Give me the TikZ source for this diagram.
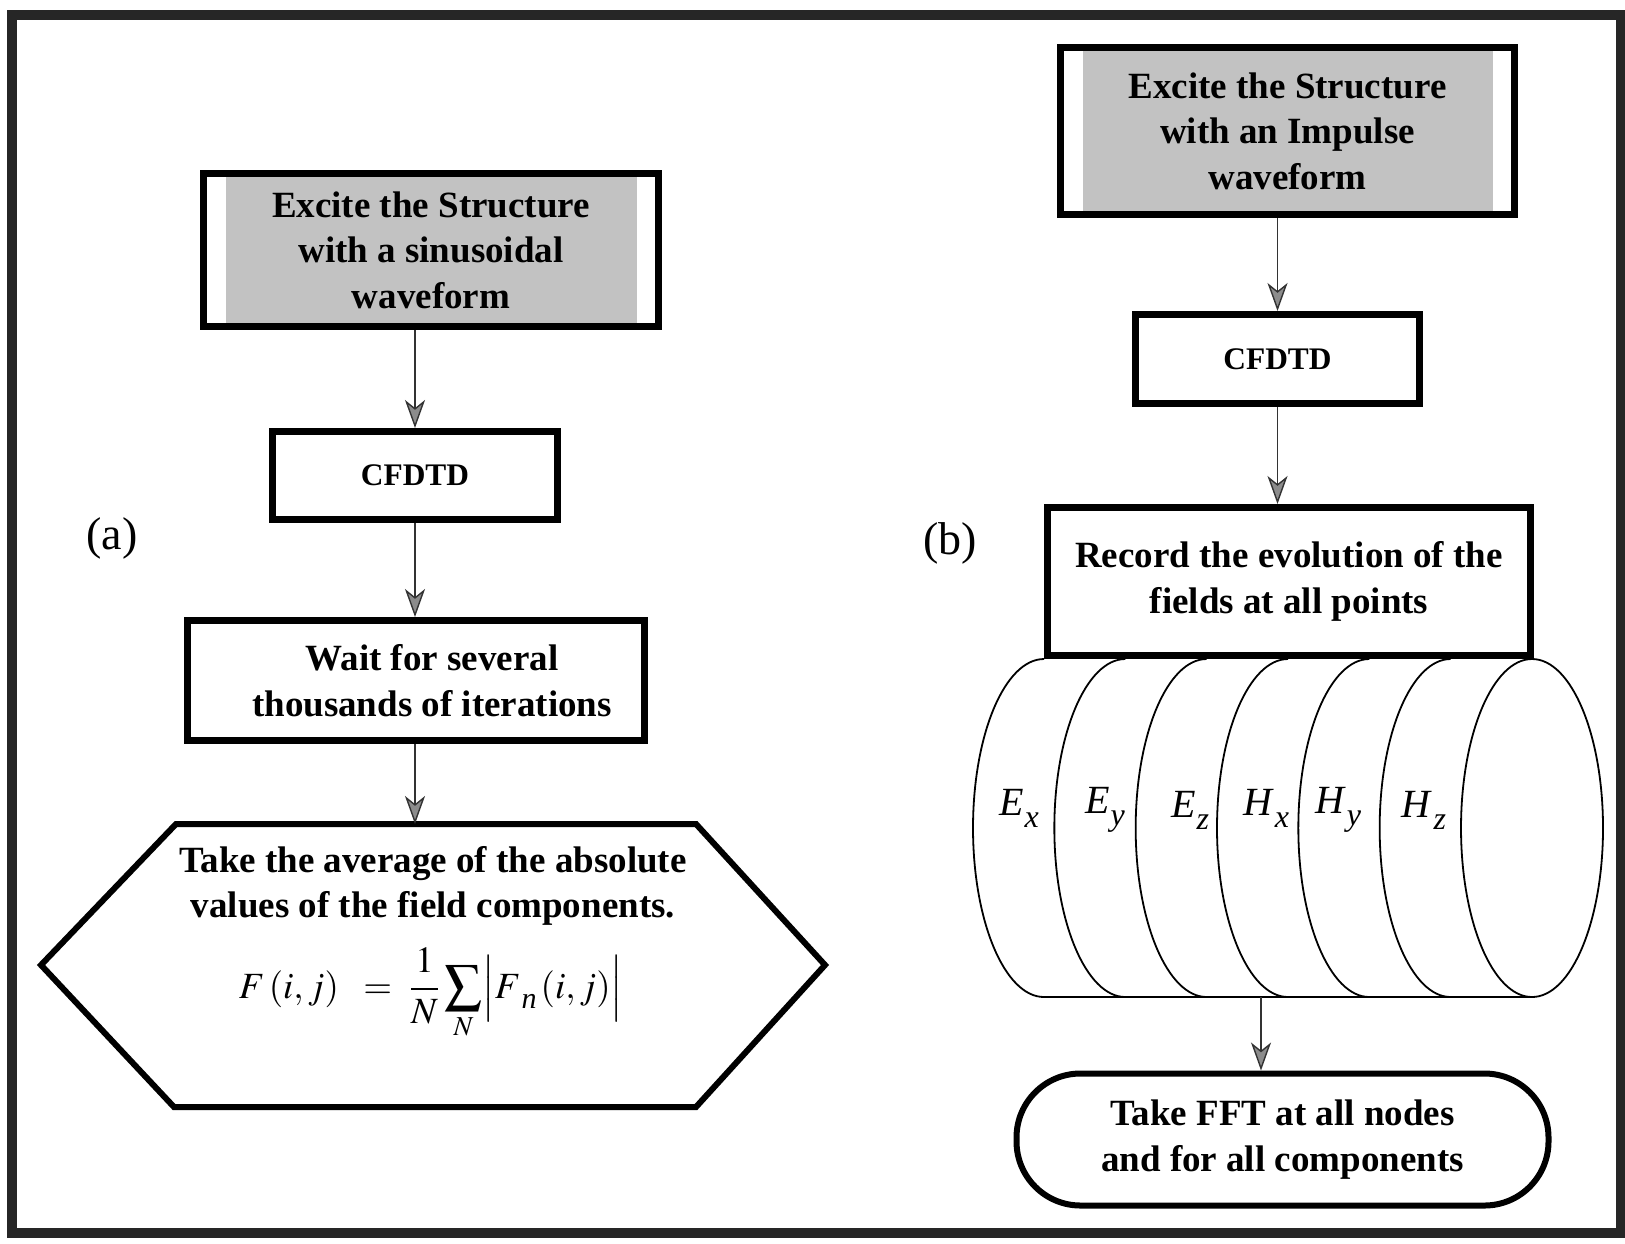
\documentclass[tikz,border=0pt]{standalone}
\usepackage{mathptmx}
\usepackage[no-math]{fontspec}
\setmainfont{Liberation Serif}
\usetikzlibrary{arrows.meta}
\newcommand\bfont{\fontsize{18.5}{22.8}\selectfont\bfseries}
\newcommand\cfont{\fontsize{15.7}{19}\selectfont\bfseries}
\newcommand\mfont{\fontsize{18.5}{22}\selectfont}
\newcommand\compl[2]{\textit{#1}\kern0.5pt\raisebox{-6pt}{\fontsize{16}{16}\selectfont\textit{#2}}}
\colorlet{boxgray}{black!24}
\tikzset{
  box/.style={draw=black, line width=3.5pt, fill=white, align=center, inner sep=0pt, font=\bfont},
  graybox/.style={box, path picture={\fill[boxgray] ([xshift=11pt]path picture bounding box.south west) rectangle ([xshift=-11pt]path picture bounding box.north east);}},
  conn/.style={draw=black!80, line width=0.7pt, -{Stealth[length=14pt,width=10pt,inset=4pt,fill=black!45]}},
  cyl/.style={line width=0.9pt},
  lbl/.style={font=\fontsize{23}{27}\selectfont},
  comp/.style={font=\fontsize{20}{24}\selectfont, inner sep=0pt}
}
\begin{document}
\begin{tikzpicture}[x=0.5pt,y=-0.5pt]
\useasboundingbox (0,0) rectangle (1625,1243);
\draw[line width=5pt, black!85] (12,15) rectangle (1621,1233);

% ---------- (a) ----------
\node[graybox, minimum width=227.5pt, minimum height=76.5pt] (a1) at (431,250) {Excite the Structure\\with a sinusoidal\\waveform};
\node[box, font=\cfont, minimum width=142.5pt, minimum height=44pt] (a2) at (415,475.5) {CFDTD};
\node[box, minimum width=228.5pt, minimum height=60pt] (a3) at (416,680.5) {\hspace*{16pt}Wait for several\\\hspace*{16pt}thousands of iterations};
\coordinate (hextop) at (415,824);
\draw[line width=3pt] (41,965) -- (176,824) -- (696,824) -- (825,965) -- (696,1107) -- (174,1107) -- cycle;
\node[font=\bfont, align=center, inner sep=0pt] (a4) at (433,886) {Take the average of the absolute\\values of the field components.};
\node[font=\mfont, anchor=base, inner sep=0pt] (a4f) at (431,998) {$\displaystyle F\,(i,j)\;\;=\;\frac{1}{N}\sum_{N}\Bigl|F\kern0.5pt\raisebox{-5pt}{\fontsize{15}{15}\selectfont\textit{n}}\,(i,j)\Bigr|$};
\node[lbl] (la) at (112,538) {(a)};

\draw[conn] (a1.south -| a2) -- (a2.north);
\draw[conn] (a2.south) -- (a2.south |- a3.north);
\draw[conn] (a3.south -| hextop) -- (hextop);

% ---------- (b) ----------
\node[graybox, minimum width=227pt, minimum height=83.5pt] (b1) at (1287.5,131) {Excite the Structure\\with an Impulse\\waveform};
\node[box, font=\cfont, minimum width=142pt, minimum height=44.5pt] (b2) at (1277.5,359) {CFDTD};
\node[box, minimum width=241.5pt, minimum height=74pt] (b3) at (1289,581.5) {Record the evolution of the\\fields at all points};
\node[lbl] (lb) at (950,543) {(b)};

% cylinder of field components
\foreach \k in {0,...,5}{
  \pgfmathsetmacro\cx{1044+\k*81.33}
  \draw[cyl] (\cx,659) arc[start angle=270, end angle=90, x radius=71, y radius=169];
}
\draw[cyl] (1532,828) ellipse[x radius=71, y radius=169];
\draw[line width=1.3pt] (1044,997) -- (1532,997);
\node[comp] (cEx) at (1019,808) {\compl{E}{x}};
\node[comp] (cEy) at (1105,810) {\compl{E}{y}};
\node[comp] (cEz) at (1190,810) {\compl{E}{z}};
\node[comp] (cHx) at (1266,808) {\compl{H}{x}};
\node[comp] (cHy) at (1338,810) {\compl{H}{y}};
\node[comp] (cHz) at (1424,810) {\compl{H}{z}};
\coordinate (cylbot) at (1261,997);

\node[box, line width=3pt, rounded corners=32pt, minimum width=266pt, minimum height=66pt] (b4) at (1282.5,1139.5) {Take FFT at all nodes\\and for all components};

\draw[conn] (b1.south -| b2) -- (b2.north);
\draw[conn] (b2.south) -- (b2.south |- b3.north);
\draw[conn] (cylbot) -- (cylbot |- b4.north);
\end{tikzpicture}
\end{document}
